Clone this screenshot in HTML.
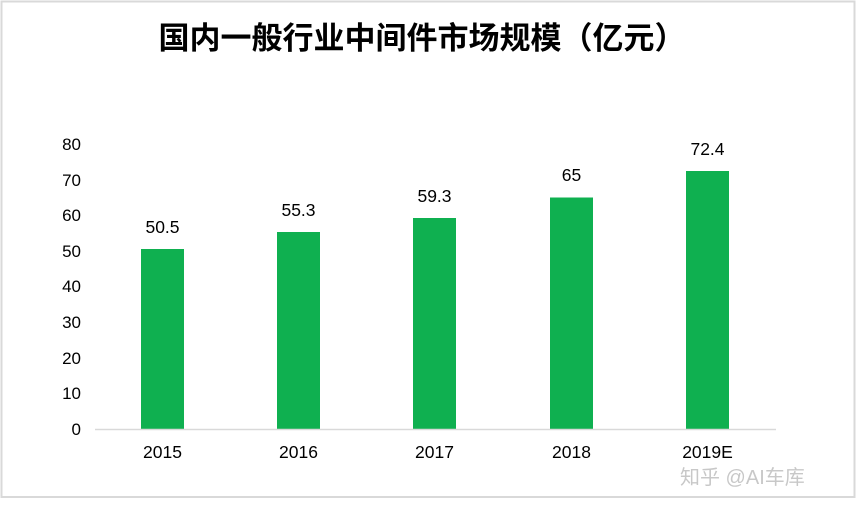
<!DOCTYPE html>
<html><head><meta charset="utf-8"><style>
html,body{margin:0;padding:0;background:#fff;}
svg{display:block;}
text{font-family:"Liberation Sans","Noto Sans CJK SC",sans-serif;}
</style></head><body>
<svg width="857" height="510" viewBox="0 0 857 510">
<rect x="0" y="0" width="857" height="510" fill="#fff"/>
<rect x="1.5" y="1.5" width="853" height="495.5" fill="none" stroke="#d9d9d9" stroke-width="2"/>
<text x="422" y="49" text-anchor="middle" font-size="31" font-weight="bold" fill="#000" font-family="'Noto Sans CJK SC',sans-serif">国内一般行业中间件市场规模（亿元）</text>
<g font-size="17" fill="#000" text-anchor="end">
<text x="81" y="435">0</text>
<text x="81" y="399">10</text>
<text x="81" y="364">20</text>
<text x="81" y="328">30</text>
<text x="81" y="292">40</text>
<text x="81" y="257">50</text>
<text x="81" y="221">60</text>
<text x="81" y="186">70</text>
<text x="81" y="150">80</text>
</g>
<g fill="#0fb050">
<rect x="141" y="249" width="43" height="180"/>
<rect x="277" y="232" width="43" height="197"/>
<rect x="413" y="218" width="43" height="211"/>
<rect x="550" y="197.5" width="43" height="231.5"/>
<rect x="686" y="171" width="43" height="258"/>
</g>
<line x1="95" y1="429.5" x2="776" y2="429.5" stroke="#d9d9d9" stroke-width="1.5"/>
<g font-size="17.5" fill="#000" text-anchor="middle">
<text x="162.5" y="233">50.5</text>
<text x="298.5" y="216">55.3</text>
<text x="434.5" y="202">59.3</text>
<text x="571.5" y="181">65</text>
<text x="707.5" y="155">72.4</text>
<text x="162.5" y="458">2015</text>
<text x="298.5" y="458">2016</text>
<text x="434.5" y="458">2017</text>
<text x="571.5" y="458">2018</text>
<text x="707.5" y="458">2019E</text>
</g>
<text x="680" y="484" font-size="20" fill="#c8c8c8" font-family="'Noto Sans CJK SC',sans-serif">知乎 @AI车库</text>
</svg>
</body></html>
